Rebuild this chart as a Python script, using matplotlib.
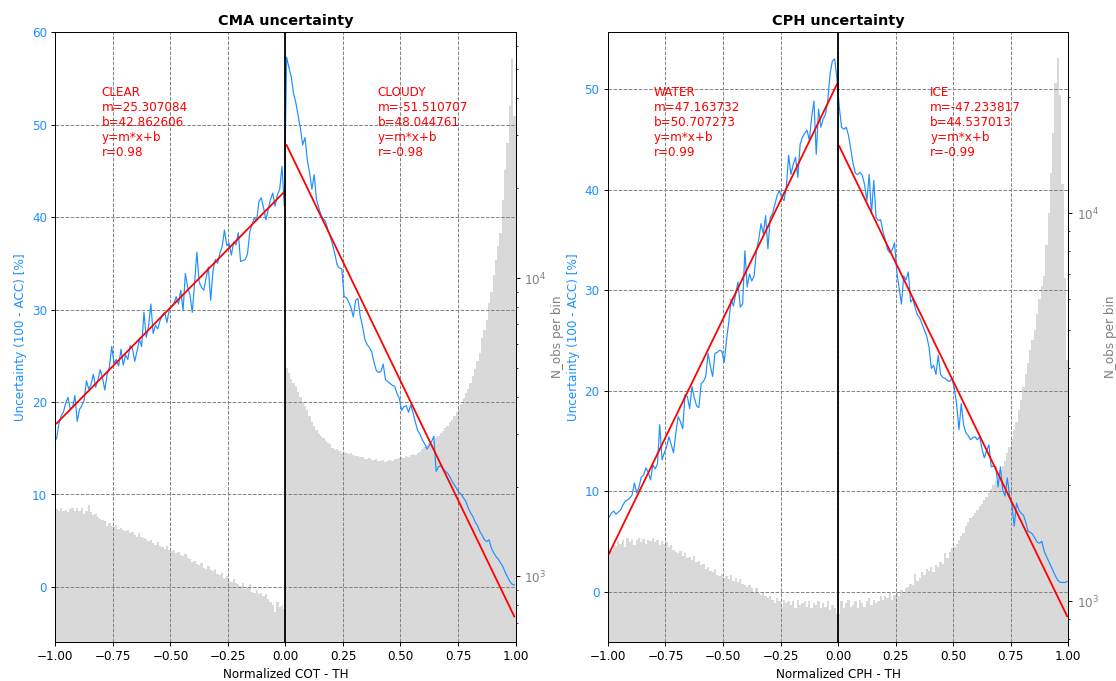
import numpy as np
import matplotlib
matplotlib.use("Agg")
import matplotlib.pyplot as plt

# ---------------- data ----------------
bin_edges = np.linspace(-1.0, 1.0, 201)

cma_unc_clear = [
    16.0, 17.6, 18.5, 18.9, 19.9, 20.5, 19.2, 19.4, 20.7, 17.9,
    19.2, 19.6, 20.2, 22.3, 21.4, 21.9, 23.0, 21.6, 22.4, 23.5,
    22.6, 21.3, 23.0, 23.8, 26.0, 24.2, 24.6, 23.9, 25.7, 24.0,
    25.1, 24.6, 26.1, 25.8, 24.4, 25.5, 26.8, 26.0, 29.7, 27.0,
    28.2, 30.6, 27.4, 28.3, 27.9, 28.8, 29.4, 29.7, 28.6, 30.0,
    30.3, 30.6, 31.4, 30.6, 32.1, 29.9, 33.9, 32.4, 31.6, 29.7,
    32.8, 36.2, 33.0, 32.4, 32.1, 33.4, 34.6, 31.0, 34.2, 35.4,
    35.0, 36.1, 36.8, 38.6, 36.9, 37.2, 35.9, 37.3, 37.0, 38.3,
    35.2, 35.3, 35.4, 36.0, 38.4, 39.2, 39.9, 39.6, 41.7, 42.1,
    41.0, 39.7, 40.8, 41.9, 42.6, 41.2, 42.4, 43.0, 45.5, 41.2]
cma_unc_cloudy = [
    57.3, 56.2, 55.2, 53.4, 52.4, 51.0, 49.6, 47.8, 48.6, 46.2,
    44.8, 43.0, 44.6, 41.9, 41.0, 40.2, 39.8, 39.5, 38.6, 37.9,
    37.0, 36.0, 34.8, 34.5, 34.4, 31.4, 31.3, 30.8, 30.2, 29.2,
    31.0, 31.2, 29.3, 28.2, 26.8, 26.2, 25.9, 25.4, 24.3, 23.4,
    23.2, 23.3, 24.1, 22.4, 22.2, 22.0, 21.8, 21.7, 20.9, 20.4,
    19.1, 19.5, 19.6, 18.9, 19.7, 18.8, 17.8, 16.9, 16.5, 15.9,
    15.5, 14.9, 15.3, 15.7, 16.3, 12.5, 13.0, 13.1, 12.8, 12.5,
    12.3, 11.9, 11.4, 11.0, 10.6, 10.2, 10.0, 9.6, 9.2, 8.5,
    8.0, 7.6, 7.0, 6.6, 6.0, 5.6, 5.1, 4.9, 5.1, 4.2,
    3.7, 3.3, 3.0, 2.6, 2.2, 1.6, 1.1, 0.6, 0.3, 0.2]

cma_nobs_clear = [
    1680, 1660, 1690, 1650, 1670, 1640, 1680, 1700, 1660, 1690,
    1650, 1700, 1620, 1660, 1730, 1640, 1600, 1620, 1580, 1560,
    1550, 1530, 1480, 1510, 1470, 1460, 1490, 1440, 1450, 1430,
    1420, 1430, 1400, 1410, 1380, 1350, 1400, 1360, 1340, 1330,
    1310, 1320, 1290, 1270, 1300, 1260, 1250, 1240, 1260, 1230,
    1220, 1230, 1200, 1210, 1180, 1170, 1190, 1150, 1140, 1120,
    1130, 1100, 1090, 1110, 1070, 1060, 1080, 1050, 1040, 1060,
    1020, 1010, 1030, 990, 1000, 970, 960, 980, 950, 940,
    930, 950, 910, 920, 940, 890, 880, 900, 870, 880,
    860, 870, 840, 820, 800, 760, 820, 790, 800, 780]
cma_nobs_cloudy = [
    4990, 4800, 4600, 4450, 4330, 4150, 4000, 3850, 3720, 3600,
    3450, 3300, 3200, 3100, 3000, 2950, 2900, 2850, 2800, 2780,
    2700, 2660, 2680, 2640, 2600, 2620, 2590, 2580, 2600, 2560,
    2540, 2530, 2510, 2520, 2480, 2470, 2490, 2460, 2450, 2470,
    2440, 2430, 2450, 2420, 2440, 2460, 2430, 2480, 2470, 2500,
    2520, 2500, 2540, 2520, 2560, 2580, 2550, 2600, 2620, 2680,
    2720, 2760, 2800, 2780, 2850, 2900, 2950, 3020, 3080, 3150,
    3200, 3280, 3350, 3450, 3550, 3650, 3780, 3950, 4100, 4250,
    4450, 4700, 4950, 5250, 5610, 6300, 6700, 7200, 8250, 9000,
    10200, 11500, 12800, 14150, 18300, 23000, 28300, 37800, 54600, 34800]

cph_unc_water = [
    7.4, 7.8, 8.0, 7.7, 7.9, 8.1, 8.6, 9.0, 9.1, 9.3,
    9.6, 10.8, 9.8, 10.4, 11.4, 11.6, 12.3, 11.9, 11.1, 12.6,
    12.2, 12.7, 16.6, 13.1, 13.8, 14.4, 15.4, 14.6, 13.8, 15.8,
    17.4, 16.9, 16.2, 19.6, 19.4, 18.2, 20.4, 19.3, 18.5, 18.3,
    20.7, 20.9, 21.4, 23.7, 22.4, 21.4, 23.7, 23.8, 24.0, 23.9,
    22.8, 25.0, 26.8, 29.1, 28.4, 29.6, 30.8, 28.3, 28.6, 33.9,
    30.3, 31.6, 30.9, 31.4, 33.9, 35.0, 36.6, 35.6, 37.4, 34.1,
    37.2, 37.6, 38.5, 39.4, 39.9, 39.2, 38.9, 40.2, 43.4, 41.5,
    42.5, 43.2, 41.2, 44.5, 45.2, 45.6, 45.9, 44.9, 47.2, 48.8,
    43.5, 48.0, 46.2, 47.0, 47.5, 48.8, 51.5, 52.8, 53.0, 51.0]
cph_unc_ice = [
    48.2, 46.2, 46.0, 46.2, 45.4, 44.0, 42.6, 41.6, 41.5, 41.7,
    41.4, 40.5, 38.9, 41.5, 37.6, 40.9, 37.2, 36.9, 37.0, 35.8,
    35.0, 34.0, 33.7, 34.0, 34.7, 31.8, 30.2, 28.6, 31.4, 31.0,
    31.8, 28.8, 29.1, 28.2, 27.5, 27.2, 26.6, 26.0, 25.4, 24.3,
    22.2, 22.5, 21.6, 23.5, 21.6, 21.3, 21.2, 21.0, 20.9, 21.2,
    20.2, 18.6, 16.1, 18.7, 16.6, 15.8, 15.5, 15.1, 15.3, 15.4,
    15.1, 15.4, 14.2, 13.3, 14.0, 14.6, 12.4, 12.5, 12.4, 10.4,
    12.4, 10.1, 9.5, 11.3, 9.5, 8.6, 6.5, 8.8, 8.1, 7.8,
    7.6, 6.9, 6.0, 5.9, 5.7, 5.3, 4.9, 4.8, 5.0, 4.0,
    3.5, 3.0, 2.5, 2.0, 1.5, 1.1, 0.9, 0.9, 0.9, 1.0]

cph_nobs_water = [
    1370, 1350, 1400, 1390, 1430, 1410, 1440, 1380, 1460, 1420,
    1450, 1400, 1440, 1460, 1420, 1450, 1410, 1440, 1430, 1460,
    1420, 1440, 1400, 1430, 1410, 1420, 1380, 1400, 1360, 1340,
    1330, 1350, 1310, 1330, 1290, 1300, 1280, 1310, 1260, 1270,
    1240, 1250, 1210, 1230, 1200, 1190, 1210, 1170, 1160, 1180,
    1150, 1160, 1140, 1170, 1130, 1150, 1120, 1140, 1110, 1100,
    1090, 1100, 1080, 1060, 1080, 1050, 1040, 1060, 1030, 1020,
    1030, 1010, 990, 1020, 1000, 970, 1010, 990, 1000, 980,
    1000, 960, 1010, 980, 990, 1000, 970, 1000, 960, 990,
    980, 1000, 960, 990, 970, 1000, 950, 980, 960, 930]
cph_nobs_ice = [
    930, 1000, 960, 990, 1010, 970, 980, 1000, 960, 1010,
    990, 970, 1000, 1020, 980, 1010, 990, 1000, 1030, 1010,
    1030, 1020, 1050, 1010, 1040, 1060, 1030, 1070, 1060, 1080,
    1090, 1110, 1100, 1180, 1130, 1150, 1190, 1170, 1210, 1200,
    1230, 1190, 1240, 1230, 1260, 1250, 1330, 1290, 1340, 1370,
    1380, 1410, 1440, 1470, 1500, 1560, 1600, 1640, 1660, 1690,
    1720, 1760, 1780, 1830, 1860, 1900, 1950, 2000, 2040, 2120,
    2180, 2230, 2300, 2410, 2500, 2620, 2770, 2900, 3120, 3300,
    3580, 3850, 4110, 4450, 4720, 5010, 5500, 6000, 6500, 6900,
    8300, 10000, 12700, 16100, 21700, 25100, 20200, 11900, 6800, 4200]

# linear fits shown in the annotations
cma_classes = ["CLEAR", "CLOUDY"]
cma_m = [25.307084, -51.510707]
cma_b = [42.862606, 48.044761]
cma_r = [0.98, -0.98]

cph_classes = ["WATER", "ICE"]
cph_m = [47.163732, -47.233817]
cph_b = [50.707273, 44.537013]
cph_r = [0.99, -0.99]

titles = ["CMA uncertainty", "CPH uncertainty"]
xlabels = ["Normalized COT - TH", "Normalized CPH - TH"]
ylabel_left = "Uncertainty (100 - ACC) [%]"
ylabel_right = "N_obs per bin"

# ---------------- figure ----------------
DPI = 86
fig = plt.figure(figsize=(1116.3 / DPI, 681.3 / DPI), dpi=DPI)

rects = [[0.0496, 0.0576, 0.4122, 0.8954],
         [0.5446, 0.0576, 0.4124, 0.8954]]
ylims = [(-5.93, 60.05), (-5.0, 55.7)]
y2lims = [(604, 66800), (787, 29400)]

panels = [
    (cma_unc_clear + cma_unc_cloudy, cma_nobs_clear + cma_nobs_cloudy,
     cma_classes, cma_m, cma_b, cma_r),
    (cph_unc_water + cph_unc_ice, cph_nobs_water + cph_nobs_ice,
     cph_classes, cph_m, cph_b, cph_r),
]

centers = 0.5 * (bin_edges[:-1] + bin_edges[1:])
halves = [centers[centers < 0], centers[centers > 0]]
blue = "#1e90ff"

for k, (unc, nobs, classes, ms, bs, rs) in enumerate(panels):
    ax = fig.add_axes(rects[k])
    ax2 = ax.twinx()

    ax2.stairs(nobs, bin_edges, fill=True, baseline=1, color="#d9d9d9", lw=0)
    ax2.set_yscale("log")
    ax2.set_ylim(*y2lims[k])
    ax2.set_ylabel(ylabel_right, color="gray")
    ax2.tick_params(axis="y", which="both", labelcolor="gray")

    ax.set_zorder(ax2.get_zorder() + 1)
    ax.patch.set_visible(False)

    ax.plot(centers, unc, color=blue, lw=1.0)
    for j, xs in enumerate(halves):
        ax.plot(xs, ms[j] * xs + bs[j], color="red", lw=1.5)
    ax.axvline(0, color="black", lw=1.5)

    for j, xt in enumerate([0.1, 0.7]):
        txt = (f"{classes[j]}\nm={ms[j]:.6f}\nb={bs[j]:.6f}\n"
               f"y=m*x+b\nr={rs[j]:.2f}")
        ax.text(xt, 0.911, txt, transform=ax.transAxes, color="red",
                va="top", ha="left", fontsize=10)

    ax.set_xlim(-1, 1)
    ax.set_ylim(*ylims[k])
    ax.set_xticks(np.arange(-1, 1.01, 0.25))
    ax.grid(True, linestyle="--", color="gray", lw=0.8)
    ax.tick_params(axis="y", labelcolor=blue)
    ax.set_ylabel(ylabel_left, color=blue)
    ax.set_xlabel(xlabels[k])
    ax.set_title(titles[k], fontweight="bold")

fig.savefig("out.png", dpi=DPI)
